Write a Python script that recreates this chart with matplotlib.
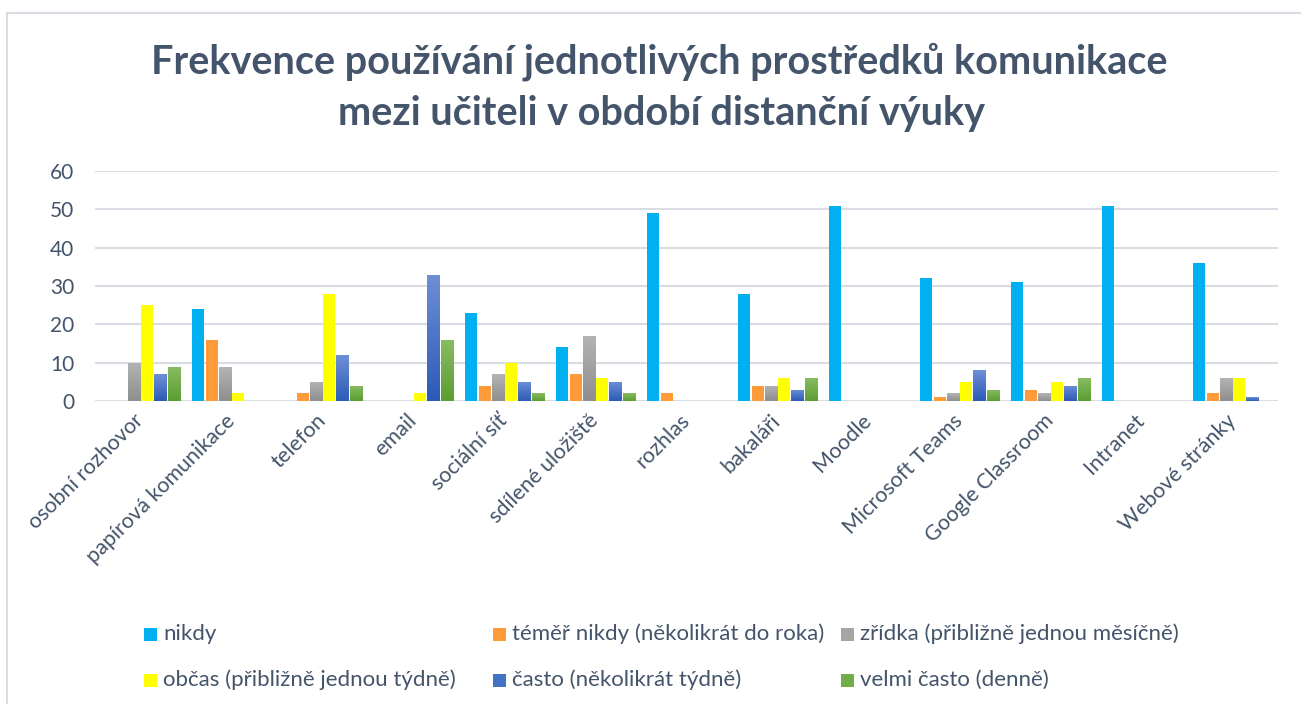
import numpy as np
import matplotlib
matplotlib.use("Agg")
import matplotlib.pyplot as plt
from matplotlib.patches import Rectangle
from matplotlib.colors import LinearSegmentedColormap

categories = ["osobní rozhovor", "papírová komunikace", "telefon", "email",
              "sociální síť", "sdílené uložiště", "rozhlas", "bakaláři",
              "Moodle", "Microsoft Teams", "Google Classroom", "Intranet",
              "Webové stránky"]

series_names = ["nikdy", "téměř nikdy (několikrát do roka)",
                "zřídka (přibližně jednou měsíčně)",
                "občas (přibližně jednou týdně)",
                "často (několikrát týdně)", "velmi často (denně)"]

nikdy       = [0, 24, 0, 0, 23, 14, 49, 28, 51, 32, 31, 51, 36]
temer_nikdy = [0, 16, 2, 0, 4, 7, 2, 4, 0, 1, 3, 0, 2]
zridka      = [10, 9, 5, 0, 7, 17, 0, 4, 0, 2, 2, 0, 6]
obcas       = [25, 2, 28, 2, 10, 6, 0, 6, 0, 5, 5, 0, 6]
casto       = [7, 0, 12, 33, 5, 5, 0, 3, 0, 8, 4, 0, 1]
velmi_casto = [9, 0, 4, 16, 2, 2, 0, 6, 0, 3, 6, 0, 0]

series = [nikdy, temer_nikdy, zridka, obcas, casto, velmi_casto]
y_ticks = [0, 10, 20, 30, 40, 50, 60]

# flat colour per series, plus (top, bottom) gradient for the shaded ones
colors = ["#00B0F0", "#FF9A3A", "#A5A5A5", "#FFFF00", "#4472C4", "#70AD47"]
gradients = {2: ("#B4B4B4", "#8E8E8E"),
             4: ("#6E8FD6", "#2C5BB6"),
             5: ("#88BC62", "#5C9E32")}

text_color = "#44546A"
font = "Lato"
plt.rcParams["font.family"] = [font, "DejaVu Sans"]

W, H = 1301, 704
fig = plt.figure(figsize=(W / 100, H / 100), dpi=100)

def fx(px):
    return px / W

def fy(py):
    return 1 - py / H

# chart frame
fig.patches.append(Rectangle((fx(7), fy(H + 20)), fx(W + 20), (H + 20 - 13) / H,
                             transform=fig.transFigure, fill=False,
                             edgecolor="#D9DDE3", linewidth=1.5))

ax = fig.add_axes([fx(95), fy(401), fx(1278) - fx(95), fy(171) - fy(401)])

x = np.arange(len(categories))
pitch = 0.146
width = 0.132
for i, (vals, col) in enumerate(zip(series, colors)):
    offs = (i - 2.5) * pitch
    bars = ax.bar(x + offs, vals, width=width, color=col, zorder=3,
                  linewidth=0)
    if i in gradients:
        cmap = LinearSegmentedColormap.from_list("g%d" % i,
                                                 [gradients[i][1], gradients[i][0]])
        grad = np.linspace(0, 1, 64).reshape(-1, 1)
        for b in bars:
            h = b.get_height()
            if h <= 0:
                continue
            x0 = b.get_x()
            im = ax.imshow(grad, extent=[x0, x0 + b.get_width(), 0, h],
                           origin="lower", cmap=cmap, aspect="auto", zorder=4)
            im.set_clip_path(b)

ax.set_xlim(-0.5, len(categories) - 0.5)
ax.set_ylim(0, 60)
ax.set_yticks(y_ticks)
ax.set_yticklabels([str(v) for v in y_ticks])
ax.yaxis.grid(True, color="#D9DDE3", linewidth=1.5, zorder=0)
ax.set_axisbelow(True)
for s in ax.spines.values():
    s.set_visible(False)
ax.tick_params(axis="y", length=0, pad=15, labelsize=15, labelcolor=text_color)
ax.tick_params(axis="x", length=0, pad=12, labelsize=15.5, labelcolor=text_color)
ax.set_xticks(x)
ax.set_xticklabels(categories, rotation=45, ha="right", va="center",
                   rotation_mode="anchor")

fig.text(fx(659), fy(62), "Frekvence používání jednotlivých prostředků komunikace",
         ha="center", va="center", fontsize=28.5, fontweight="bold", color=text_color)
fig.text(fx(661), fy(113), "mezi učiteli v období distanční výuky",
         ha="center", va="center", fontsize=28.5, fontweight="bold", color=text_color)

# legend: three columns, two rows
leg_cols = [144, 493, 841]
leg_rows = [634, 680]
for k, name in enumerate(series_names):
    r, c = divmod(k, 3)
    px, py = leg_cols[c], leg_rows[r]
    fig.patches.append(Rectangle((fx(px), fy(py + 6.5)), fx(13), 13 / H,
                                 transform=fig.transFigure,
                                 facecolor=colors[k], edgecolor="none"))
    fig.text(fx(px + 19), fy(py), name, ha="left", va="center",
             fontsize=16, color=text_color)

fig.savefig("out.png", dpi=100, facecolor="white")
